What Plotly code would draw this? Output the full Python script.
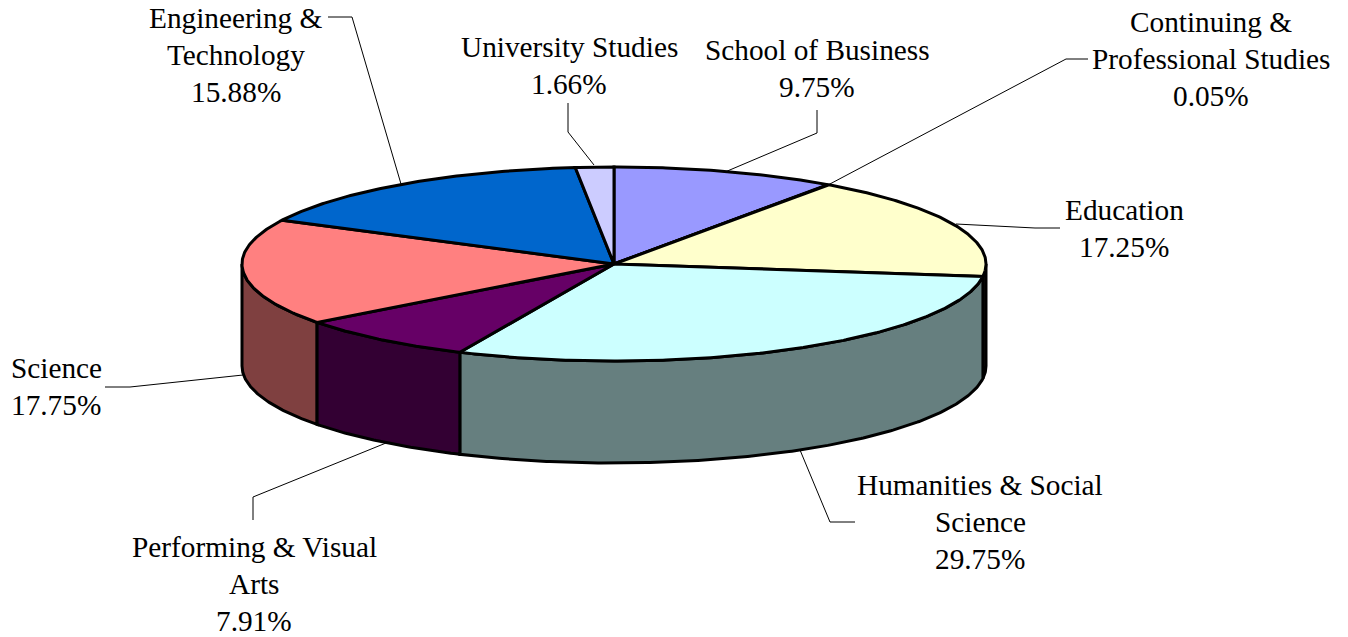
import math
import plotly.graph_objects as go

categories = ["School of Business", "Continuing & Professional Studies", "Education",
              "Humanities & Social Science", "Performing & Visual Arts", "Science",
              "Engineering & Technology", "University Studies"]
shares = [9.75, 0.05, 17.25, 29.75, 7.91, 17.75, 15.88, 1.66]
top_colors = ["#9999FF", "#000080", "#FFFFCC", "#CCFFFF", "#660066", "#FF8080", "#0066CC", "#CCCCFF"]
side_colors = ["#4C4C7F", "#000040", "#7F7F66", "#667F7F", "#330033", "#7F4040", "#003366", "#66667F"]

label_lines = [
    ["School of Business", "9.75%"],
    ["Continuing &", "Professional Studies", "0.05%"],
    ["Education", "17.25%"],
    ["Humanities & Social", "Science", "29.75%"],
    ["Performing & Visual", "Arts", "7.91%"],
    ["Science", "17.75%"],
    ["Engineering &", "Technology", "15.88%"],
    ["University Studies", "1.66%"],
]
label_x = [817, 1211, 1124, 980, 254, 56, 236, 569]
label_first_y = [50, 22, 210, 485, 547, 368, 18, 47]
leaders = [
    [(817, 110), (817, 133), (725, 172)],
    [(1088, 59), (1066, 59), (828, 185)],
    [(1060, 228), (1035, 228), (956, 224)],
    [(855, 522), (830, 522), (800, 450)],
    [(253, 520), (253, 497), (386, 443)],
    [(105, 387), (130, 387), (243, 375)],
    [(328, 17), (352, 17), (401, 184)],
    [(568, 103), (568, 132), (594, 165)],
]

CX, CY, RX, RY, DEPTH = 614.0, 264.0, 372.0, 97.0, 102.0
LINE_GAP = 37
FONT = dict(family="Liberation Serif", size=29.3, color="#000000")


def rim(deg, dy=0.0):
    a = math.radians(deg)
    return CX + RX * math.sin(a), CY - RY * math.cos(a) + dy


def arc(a0, a1, dy=0.0):
    n = max(2, int(abs(a1 - a0) * 2) + 1)
    return [rim(a0 + (a1 - a0) * i / (n - 1), dy) for i in range(n)]


fig = go.Figure()


def add_poly(pts, fill, name):
    fig.add_trace(go.Scatter(
        x=[p[0] for p in pts], y=[p[1] for p in pts], mode="lines", fill="toself",
        fillcolor=fill, line=dict(color="#000000", width=3), name=name,
        hoverinfo="name", showlegend=False))


total = sum(shares)
starts, ends = [], []
cum = 0.0
for s in shares:
    starts.append(cum / total * 360)
    cum += s
    ends.append(cum / total * 360)

# visible outer walls (front half: 90..270 degrees), outermost first
order = [2, 5, 3, 4]
for i in order:
    a0, a1 = max(starts[i], 90), min(ends[i], 270)
    if a0 < a1:
        pts = arc(a0, a1) + arc(a1, a0, DEPTH)
        add_poly(pts + pts[:1], side_colors[i], categories[i])

# top faces
for i in range(len(shares)):
    pts = [(CX, CY)] + arc(starts[i], ends[i]) + [(CX, CY)]
    add_poly(pts, top_colors[i], categories[i])

shapes = []
for path in leaders:
    d = "M " + " L ".join(f"{x} {y}" for x, y in path)
    shapes.append(dict(type="path", path=d, xref="x", yref="y",
                       line=dict(color="#000000", width=1), layer="below"))

annotations = []
for lines, x, y0 in zip(label_lines, label_x, label_first_y):
    for j, text in enumerate(lines):
        annotations.append(dict(x=x, y=y0 + j * LINE_GAP, xref="x", yref="y", text=text,
                                showarrow=False, xanchor="center", yanchor="middle", font=FONT))

fig.update_layout(
    width=1348, height=637, margin=dict(l=0, r=0, t=0, b=0),
    paper_bgcolor="#FFFFFF", plot_bgcolor="#FFFFFF", showlegend=False,
    xaxis=dict(range=[0, 1348], visible=False, fixedrange=True),
    yaxis=dict(range=[637, 0], visible=False, fixedrange=True),
    shapes=shapes, annotations=annotations,
)
fig.write_html("out.html", config=dict(displayModeBar=False),
               post_script="document.body.style.margin='0';document.body.style.overflow='hidden';")
